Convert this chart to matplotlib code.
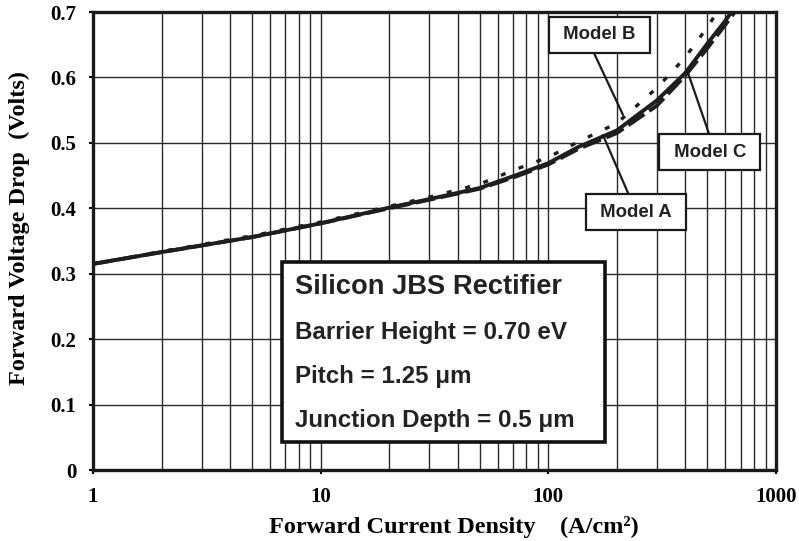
import numpy as np
import matplotlib.pyplot as plt
from matplotlib.ticker import FixedLocator, NullFormatter

# forward current density (A/cm2) and forward drop (V) for the three models
j_a = [1, 2, 5, 10, 20, 30, 50, 70, 100, 136, 200, 300, 400, 500, 600, 700]
v_a = [0.315, 0.333, 0.356, 0.377, 0.401, 0.414, 0.431, 0.449, 0.469, 0.494,
       0.519, 0.565, 0.607, 0.652, 0.687, 0.72]

j_b = [1, 2, 5, 10, 20, 30, 50, 70, 100, 136, 200, 300, 400, 500, 600]
v_b = [0.315, 0.334, 0.358, 0.379, 0.403, 0.417, 0.437, 0.458, 0.478, 0.502,
       0.530, 0.584, 0.631, 0.677, 0.72]

j_c = [1, 2, 5, 10, 20, 30, 50, 70, 100, 136, 200, 300, 400, 500, 600, 700]
v_c = [0.315, 0.333, 0.356, 0.377, 0.400, 0.413, 0.430, 0.447, 0.467, 0.491,
       0.515, 0.557, 0.603, 0.645, 0.681, 0.712]

x_ticks = [1, 10, 100, 1000]
x_tick_labels = ["1", "10", "100", "1000"]
y_ticks = [0, 0.1, 0.2, 0.3, 0.4, 0.5, 0.6, 0.7]
y_tick_labels = ["0", "0.1", "0.2", "0.3", "0.4", "0.5", "0.6", "0.7"]

info_lines = ["Silicon JBS Rectifier",
              "Barrier Height = 0.70 eV",
              "Pitch = 1.25 \u03bcm",
              "Junction Depth = 0.5 \u03bcm"]

serif = "Liberation Serif"
sans = "Liberation Sans"

fig = plt.figure(figsize=(7.99, 5.41), dpi=100)
ax = fig.add_axes([93 / 799, 1 - 470 / 541, 683 / 799, 458 / 541])

ax.set_xscale("log")
ax.set_xlim(1, 1000)
ax.set_ylim(0, 0.7)

# grid: every decade subdivision on x, every 0.1 V on y
minors = [m * 10 ** d for d in range(3) for m in range(2, 10)]
ax.xaxis.set_minor_locator(FixedLocator(minors))
ax.xaxis.set_minor_formatter(NullFormatter())
ax.set_xticks(x_ticks)
ax.set_xticklabels(x_tick_labels)
ax.set_yticks(y_ticks)
ax.set_yticklabels(y_tick_labels)
ax.grid(True, which="both", color="#2a2a2a", lw=1.0)
ax.set_axisbelow(True)

ax.tick_params(which="major", direction="out", length=3, width=1.5, pad=9)
ax.tick_params(which="minor", length=0)
for lab in ax.get_xticklabels() + ax.get_yticklabels():
    lab.set_fontfamily(serif)
    lab.set_fontweight("bold")
    lab.set_fontsize(15)
for sp in ax.spines.values():
    sp.set_linewidth(2.4)
    sp.set_color("#1a1a1a")

ax.plot(j_a, v_a, color="#1e1e1e", lw=2.8, solid_capstyle="butt")
ax.plot(j_c, v_c, color="#1e1e1e", lw=2.8, dashes=(5, 1.5))
ax.plot(j_b, v_b, color="#1e1e1e", lw=2.4, dashes=(1.5, 4.2))

ax.set_xlabel("Forward Current Density    (A/cm\u00b2)", fontfamily=serif,
              fontweight="bold", fontsize=17.5, va="center")
ax.xaxis.set_label_coords(0.529, -0.124)
ax.set_ylabel("Forward Voltage Drop  (Volts)", fontfamily=serif,
              fontweight="bold", fontsize=17.5, va="center")
ax.yaxis.set_label_coords(-0.108, 0.528)

# model call-outs
box = dict(boxstyle="square,pad=0.5", fc="white", ec="#1a1a1a", lw=1.6)
callouts = [("Model B", (212.6, 0.543), (167.6, 0.665), (0.38, 0.0)),
            ("Model A", (173.7, 0.512), (242.5, 0.394), (0.46, 1.0)),
            ("Model C", (406.0, 0.612), (512.6, 0.486), (0.53, 1.0))]
for name, tip, at, rel in callouts:
    ax.annotate(" " + name + " ", xy=tip, xytext=at, ha="center",
                va="center", fontfamily=sans, fontweight="bold",
                fontsize=13.4, color="#222222", bbox=box,
                arrowprops=dict(arrowstyle="-", color="#1a1a1a", lw=1.6,
                                relpos=rel, shrinkA=0, shrinkB=0))

# parameter panel
panel = plt.Rectangle((282 / 799, 1 - 442 / 541), 323 / 799, 180 / 541,
                      transform=fig.transFigure, fc="white", ec="#111111",
                      lw=2.6, zorder=5)
fig.add_artist(panel)
rows_y = [287, 333, 377, 420]
sizes = [19.6, 17.4, 17.4, 17.4]
for txt, yy, fs in zip(info_lines, rows_y, sizes):
    fig.text(295 / 799, 1 - yy / 541, txt, ha="left", va="center",
             fontfamily=sans, fontweight="bold", fontsize=fs,
             color="#222222", zorder=6)

fig.savefig("out.png", dpi=100)
